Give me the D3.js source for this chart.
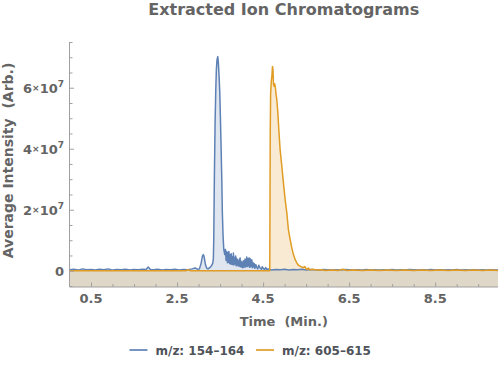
<!DOCTYPE html>
<html>
<head>
<meta charset="utf-8">
<script src="https://cdn.jsdelivr.net/npm/d3@7"></script>
<style>
  html, body { margin: 0; padding: 0; background: #fff; }
  svg { display: block; font-family: "DejaVu Sans", sans-serif; font-weight: bold; }
</style>
</head>
<body>
<script>
// ---------------- DATA ----------------
const seriesNames = ["m/z: 154\u2013164", "m/z: 605\u2013615"];

// Series 1 (m/z 154–164): time (min) and intensity (units of 1e6)
const blueTime = [
  0.00,0.10,0.20,0.30,0.40,0.50,0.60,0.70,0.80,0.90,1.00,1.10,1.20,1.30,1.40,1.50,1.60,1.70,1.78,1.83,1.88,1.95,
  2.05,2.15,2.25,2.35,2.45,2.55,2.65,2.75,2.85,2.92,2.97,3.02,3.06,3.09,3.11,3.13,3.16,3.19,3.22,3.26,3.30,3.33,
  3.344,3.353,3.367,3.384,3.400,3.414,3.430,3.447,3.460,3.477,3.493,3.507,3.523,3.540,3.553,3.570,3.586,3.609,
  3.625,3.640,3.656,3.670,3.680,3.693,3.705,3.720,3.733,3.745,3.758,3.772,3.785,3.797,3.810,3.823,3.836,3.849,
  3.862,3.875,3.888,3.900,3.913,3.926,3.940,3.952,3.965,3.978,3.990,4.003,4.016,4.030,4.042,4.055,4.068,4.081,
  4.094,4.107,4.120,4.133,4.146,4.159,4.172,4.185,4.198,4.211,4.224,4.237,4.250,4.263,4.275,4.290,4.310,4.330,
  4.353,4.375,4.400,4.430,4.460,4.480,4.507,4.530,4.560,4.585,4.620,4.660,4.700,4.80,4.90,5.00,5.10,5.20,5.30,
  5.40,5.50,5.60,5.70,5.80,5.90,6.00,6.10,6.20,6.30,6.40,6.50,6.60,6.70,6.80,6.90,7.00,7.10,7.20,7.30,7.40,7.50,
  7.60,7.70,7.80,7.90,8.00,8.10,8.20,8.30,8.40,8.50,8.60,8.70,8.80,8.90,9.00,9.10,9.20,9.30,9.40,9.50,9.60,9.70,
  9.80,9.96
];
const blueIntensity = [
  0.3,0.5,0.2,0.6,0.3,0.4,0.2,0.5,0.3,0.6,0.2,0.4,0.3,0.5,0.2,0.4,0.3,0.5,0.4,1.2,0.4,0.3,
  0.5,0.2,0.4,0.3,0.5,0.2,0.4,0.3,0.6,0.9,0.5,0.6,2.5,4.8,5.3,4.5,2.0,0.8,0.6,1.0,1.6,2.5,
  4.0,10.3,30.0,48.5,59.4,66.0,69.3,70.2,68.2,63.8,58.4,50.7,40.9,30.0,19.0,11.3,7.0,5.3,
  7.0,3.4,6.2,2.6,6.0,2.8,6.3,2.4,5.2,2.2,5.6,2.1,4.6,2.0,5.8,1.9,4.3,2.2,
  4.8,1.6,4.0,1.7,3.6,2.4,1.4,3.4,4.2,1.3,3.1,1.2,2.8,1.0,3.3,1.1,2.5,3.8,
  1.2,3.0,4.5,1.4,3.9,1.6,4.2,1.1,4.0,1.3,2.9,3.6,1.0,2.7,1.2,2.4,0.8,2.0,
  1.1,0.6,1.8,0.9,0.5,1.3,0.7,0.4,1.0,0.4,0.6,0.3,0.2,0.4,0.3,0.5,0.2,0.4,0.3,
  0.5,0.2,0.4,0.3,0.2,0.4,0.3,0.2,0.3,0.2,0.4,0.3,0.2,0.3,0.2,0.4,0.2,0.3,0.2,0.3,0.2,0.4,
  0.2,0.3,0.2,0.4,0.3,0.2,0.3,0.2,0.4,0.2,0.3,0.2,0.3,0.2,0.4,0.2,0.3,0.2,0.3,0.2,0.3,0.2,
  0.3,0.2
];

// Series 2 (m/z 605–615): time (min) and intensity (units of 1e6)
const orangeTime = [
  0.00,1.00,2.00,2.70,2.76,2.82,3.50,4.00,4.50,4.655,4.666,4.675,4.690,4.705,4.718,4.730,4.742,4.756,4.770,4.786,
  4.800,4.819,4.842,4.865,4.895,4.935,4.972,5.012,5.051,5.088,5.128,5.167,5.205,5.244,5.284,5.320,5.360,5.400,
  5.437,5.470,5.500,5.516,5.550,5.580,5.650,5.750,5.850,5.950,6.100,6.250,6.350,6.450,6.600,6.800,7.000,7.200,
  7.400,7.600,7.800,8.000,8.200,8.400,8.600,8.800,9.000,9.200,9.400,9.600,9.800,9.96
];
const orangeIntensity = [
  0.0,0.0,0.0,0.0,0.3,0.0,0.0,0.0,0.0,0.0,45.0,58.0,62.0,64.0,67.0,66.0,61.0,60.5,61.3,60.0,
  58.0,56.0,52.0,46.3,39.8,34.3,28.9,23.4,19.0,13.5,10.3,7.5,5.3,3.7,2.6,1.8,1.5,1.2,
  1.0,1.4,0.6,0.4,0.9,0.3,0.5,0.2,0.3,0.1,0.2,0.1,0.5,0.1,0.2,0.1,0.2,0.1,
  0.2,0.1,0.2,0.1,0.2,0.1,0.2,0.1,0.2,0.1,0.2,0.1,0.2,0.1
];

const xTickValues = [0.5, 2.5, 4.5, 6.5, 8.5];
const xTickLabels = ["0.5", "2.5", "4.5", "6.5", "8.5"];
const yTickValues = [0, 2e7, 4e7, 6e7];
const yTickMantissa = ["0", "2", "4", "6"];
const yExponent = "7";
const SCALE = 1e6;

// ---------------- LAYOUT ----------------
const W = 500, H = 365;
const plotL = 69.5, plotR = 498, plotT = 42, plotB = 287;
const blueC = "#5E81B5", orangeC = "#E19C24";
const textC = "#646464", axisC = "#a0a0a0";

const svg = d3.select("body").append("svg").attr("width", W).attr("height", H);

const x = d3.scaleLinear().domain([0, 9.96]).range([plotL, plotR]);
const y = d3.scaleLinear().domain([-5.34e6, 7.5e7]).range([plotB, plotT]);

const blue = blueTime.map((t, i) => ({t, v: blueIntensity[i] * SCALE}));
const orange = orangeTime.map((t, i) => ({t, v: orangeIntensity[i] * SCALE}));

svg.append("clipPath").attr("id", "clip").append("rect")
  .attr("x", plotL).attr("y", plotT).attr("width", plotR - plotL).attr("height", plotB - plotT);

const g = svg.append("g").attr("clip-path", "url(#clip)");

const area = d3.area().x(d => x(d.t)).y0(plotB).y1(d => y(d.v));
const line = d3.line().x(d => x(d.t)).y(d => y(d.v));

g.append("path").datum(blue).attr("d", area).attr("fill", blueC).attr("fill-opacity", 0.2);
g.append("path").datum(orange).attr("d", area).attr("fill", orangeC).attr("fill-opacity", 0.2);
g.append("path").datum(blue).attr("d", line).attr("fill", "none").attr("stroke", blueC)
  .attr("stroke-width", 1.5).attr("stroke-linejoin", "round");
g.append("path").datum(orange).attr("d", line).attr("fill", "none").attr("stroke", orangeC)
  .attr("stroke-width", 1.5).attr("stroke-linejoin", "round");

// ---------------- AXES ----------------
const xMinor = d3.range(0.5, 10, 0.5);
const xAxis = d3.axisBottom(x).tickValues(xMinor).tickSize(-3).tickFormat("");
const gx = svg.append("g").attr("transform", `translate(0,${plotB})`).call(xAxis);
gx.select(".domain").attr("stroke", axisC).attr("d", `M${plotL},0H${plotR}`);
gx.selectAll(".tick line").attr("stroke", axisC)
  .attr("y2", d => xTickValues.includes(d) ? -4.5 : -3);

svg.append("g").selectAll("text").data(xTickValues).join("text")
  .attr("x", d => x(d)).attr("y", 303).attr("text-anchor", "middle")
  .attr("font-size", 13).attr("fill", textC)
  .text((d, i) => xTickLabels[i]);

const yMinor = d3.range(-5e6, 7.6e7, 5e6);
const yAxis = d3.axisLeft(y).tickValues(yMinor).tickSize(-3).tickFormat("");
const gy = svg.append("g").attr("transform", `translate(${plotL},0)`).call(yAxis);
gy.select(".domain").attr("stroke", axisC).attr("d", `M0,${plotT}V${plotB}`);
gy.selectAll(".tick line").attr("stroke", axisC)
  .attr("x2", d => yTickValues.includes(d) ? 4.5 : 3);

const yl = svg.append("g").selectAll("text").data(yTickValues).join("text")
  .attr("x", 64).attr("y", d => y(d) + 5).attr("text-anchor", "end")
  .attr("font-size", 13).attr("fill", textC);
yl.each(function(d, i) {
  const t = d3.select(this);
  if (d === 0) { t.text("0"); return; }
  t.append("tspan").text(yTickMantissa[i]);
  t.append("tspan").attr("font-size", 9).attr("dy", -2).text("\u00d7");
  t.append("tspan").attr("dy", 2).text("10");
  t.append("tspan").attr("font-size", 9).attr("dy", -6).text(yExponent);
});

// ---------------- TEXT ----------------
svg.append("text").attr("x", (plotL + plotR) / 2).attr("y", 15).attr("text-anchor", "middle")
  .attr("font-size", 16).attr("fill", textC).text("Extracted Ion Chromatograms");

svg.append("text").attr("x", (plotL + plotR) / 2).attr("y", 326).attr("text-anchor", "middle")
  .attr("font-size", 13).attr("fill", textC).style("white-space", "pre").text("Time  (Min.)");

svg.append("text").attr("transform", `translate(12.5,${(plotT + plotB) / 2 - 4}) rotate(-90)`)
  .attr("text-anchor", "middle").attr("font-size", 14).attr("fill", textC)
  .style("white-space", "pre").text("Average Intensity  (Arb.)");

// ---------------- LEGEND ----------------
const legend = [
  {name: seriesNames[0], color: blueC, x0: 129.5},
  {name: seriesNames[1], color: orangeC, x0: 256}
];
const lg = svg.append("g").selectAll("g").data(legend).join("g");
lg.append("line").attr("x1", d => d.x0).attr("x2", d => d.x0 + 18).attr("y1", 350).attr("y2", 350)
  .attr("stroke", d => d.color).attr("stroke-width", 2).attr("stroke-opacity", 0.85);
lg.append("text").attr("x", d => d.x0 + 26).attr("y", 354.5).attr("font-size", 12)
  .attr("fill", "#4f535a").text(d => d.name);
</script>
</body>
</html>
